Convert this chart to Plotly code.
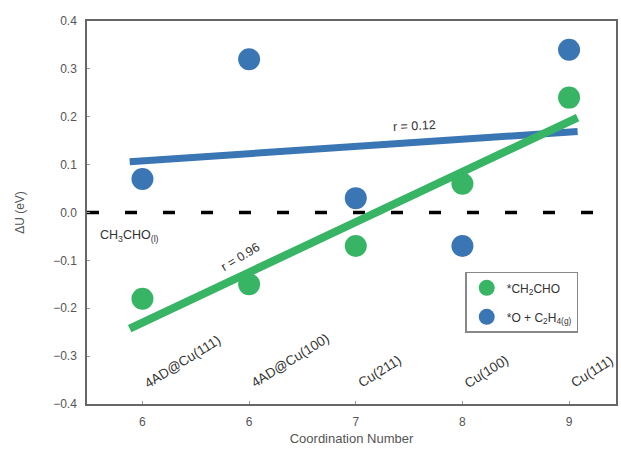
import numpy as np
import plotly.graph_objects as go

# Surfaces ordered by coordination number
surfaces = ["4AD@Cu(111)", "4AD@Cu(100)", "Cu(211)", "Cu(100)", "Cu(111)"]
coordination = ["6", "6", "7", "8", "9"]
positions = list(range(len(surfaces)))

# Reaction energies ΔU (eV) relative to CH3CHO(l)
du_ch2cho = [-0.18, -0.15, -0.07, 0.06, 0.24]
du_o_c2h4 = [0.07, 0.32, 0.03, -0.07, 0.34]

green = "#38b465"
blue = "#3a75b4"
grey = "#555555"
dark = "#333333"

fit_x = np.array([-0.12, 4.08])
g_fit = np.polyfit(positions, du_ch2cho, 1)
b_fit = np.polyfit(positions, du_o_c2h4, 1)

fig = go.Figure()

# reference line at ΔU = 0
fig.add_trace(go.Scatter(x=[-0.52, 4.44], y=[0, 0], mode="lines",
                         line=dict(color="black", width=3.5, dash="12px,26px"),
                         showlegend=False, hoverinfo="skip"))

# linear trends
fig.add_trace(go.Scatter(x=fit_x, y=np.polyval(b_fit, fit_x), mode="lines",
                         line=dict(color=blue, width=7), showlegend=False))
fig.add_trace(go.Scatter(x=fit_x, y=np.polyval(g_fit, fit_x), mode="lines",
                         line=dict(color=green, width=8), showlegend=False))

fig.add_trace(go.Scatter(x=positions, y=du_ch2cho, mode="markers",
                         marker=dict(color=green, size=22),
                         legendgroup="a", name="*CH<sub>2</sub>CHO"))
fig.add_trace(go.Scatter(x=positions, y=du_o_c2h4, mode="markers",
                         marker=dict(color=blue, size=22),
                         legendgroup="b", name="*O + C<sub>2</sub>H<sub>4(g)</sub>"))

# surface labels
for p, s in zip(positions, surfaces):
    fig.add_annotation(x=p - 0.03, y=-0.378, text=s, showarrow=False,
                       textangle=-32, xanchor="left", yanchor="bottom",
                       font=dict(size=13.5, color=dark))

fig.add_annotation(x=-0.42, y=-0.05, text="CH<sub>3</sub>CHO<sub>(l)</sub>",
                   showarrow=False, xanchor="left", yanchor="middle",
                   font=dict(size=12.5, color=dark))
fig.add_annotation(x=2.55, y=0.18, text="r = 0.12", showarrow=False,
                   textangle=-3, font=dict(size=12.5, color=dark))
fig.add_annotation(x=0.92, y=-0.093, text="r = 0.96", showarrow=False,
                   textangle=-31, font=dict(size=12.5, color=dark))

fig.update_layout(
    width=621, height=450,
    margin=dict(l=87, r=3, t=21, b=46),
    plot_bgcolor="white", paper_bgcolor="white",
    font=dict(family="Liberation Sans, Arial, sans-serif", size=12, color=grey),
    xaxis=dict(range=[-0.52, 4.44], tickvals=positions, ticktext=coordination,
               showgrid=False, zeroline=False, showline=True, mirror=True,
               linecolor="#666666", linewidth=1.5, ticks="inside", ticklen=3,
               tickcolor="#999999", ticklabelstandoff=6,
               title=dict(text="Coordination Number", standoff=6,
                          font=dict(size=13))),
    yaxis=dict(range=[-0.4, 0.4], dtick=0.1, tickformat=".1f",
               showgrid=False, zeroline=False, showline=True, mirror=True,
               linecolor="#666666", linewidth=1.5, ticks="inside", ticklen=3,
               tickcolor="#999999", ticklabelstandoff=6,
               title=dict(text="ΔU (eV)", standoff=26, font=dict(size=12))),
    legend=dict(x=0.715, y=0.345, xanchor="left", yanchor="top",
                bgcolor="white", bordercolor="#888888", borderwidth=1.5,
                tracegroupgap=10, font=dict(size=12, color=dark),
                itemsizing="trace"),
)

fig.write_html("out.html")
